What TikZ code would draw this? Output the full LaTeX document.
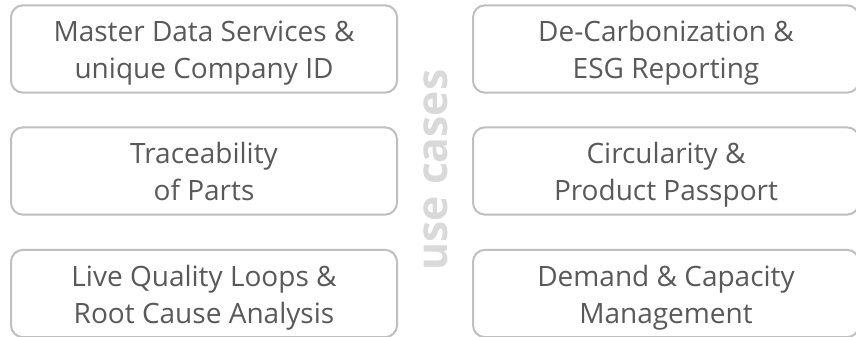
\documentclass[tikz,border=0pt]{standalone}
\usepackage{fontspec}
\setmainfont{Open Sans}
\definecolor{boxline}{HTML}{BFBFBF}
\definecolor{txtgray}{HTML}{595959}
\definecolor{ucgray}{HTML}{D9D9D9}
\tikzset{
  ucbox/.style={draw=boxline, line width=1.5pt, rounded corners=9pt, minimum width=289.5pt, minimum height=65.5pt, inner sep=0pt},
  uctext/.style={text=txtgray, font=\fontsize{21}{27.75}\selectfont, align=center, inner sep=0pt},
  vlabel/.style={text=ucgray, font=\fontsize{32}{40}\selectfont\bfseries, rotate=90, inner sep=0pt}
}
\begin{document}
\begin{tikzpicture}[x=0.75pt,y=-0.75pt]
\useasboundingbox (0,0) rectangle (856,336);
\node[ucbox] (b1) at (204,49) {};
\node[ucbox] (b2) at (204,171) {};
\node[ucbox] (b3) at (204,293.5) {};
\node[ucbox] (b4) at (666,49) {};
\node[ucbox] (b5) at (666,171) {};
\node[ucbox] (b6) at (666,293.5) {};
\node[uctext] (t1) at ([yshift=-3pt]b1.center) {\strut Master Data Services \&\\\strut unique Company ID};
\node[uctext] (t2) at ([yshift=-2.5pt]b2.center) {\strut Traceability\\\strut of Parts};
\node[uctext] (t3) at ([yshift=-3pt]b3.center) {\strut Live Quality Loops \&\\\strut Root Cause Analysis};
\node[uctext] (t4) at ([yshift=-3pt]b4.center) {\strut De-Carbonization \&\\\strut ESG Reporting};
\node[uctext] (t5) at ([yshift=-2.5pt]b5.center) {\strut Circularity \&\\\strut Product Passport};
\node[uctext] (t6) at ([yshift=-3pt]b6.center) {\strut Demand \& Capacity\\\strut Management};
\node[vlabel] (uc) at (436,170) {use cases};
\end{tikzpicture}
\end{document}
